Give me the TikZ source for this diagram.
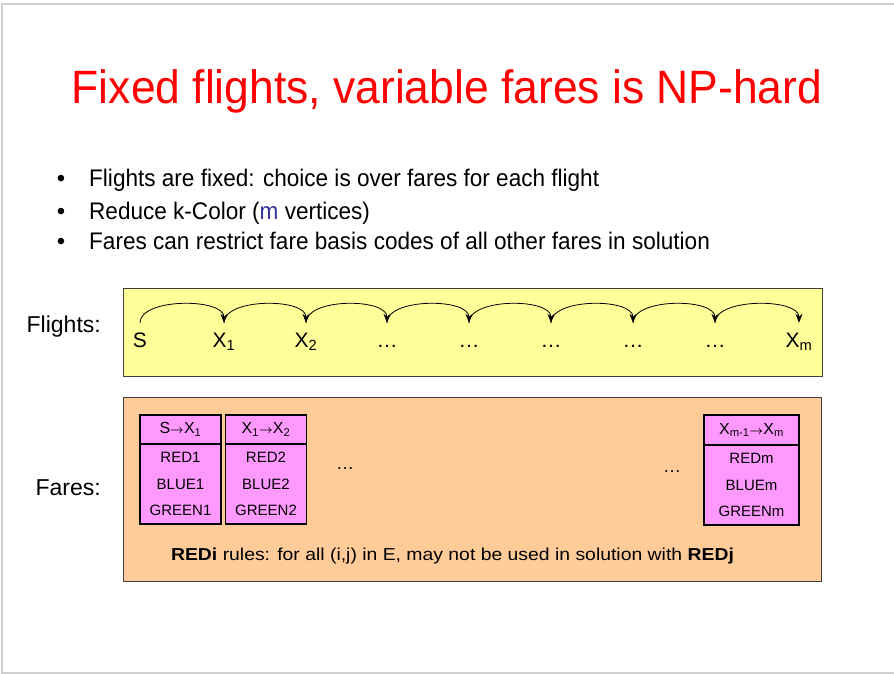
\documentclass[tikz,border=0pt]{standalone}
\usepackage{fontspec}
\setmainfont{Liberation Sans}
\usetikzlibrary{arrows.meta}
\definecolor{titlered}{RGB}{255,0,0}
\definecolor{flightbg}{RGB}{255,255,153}
\definecolor{farebg}{RGB}{255,204,153}
\definecolor{farecell}{RGB}{255,153,255}
\definecolor{mblue}{RGB}{51,51,153}
\definecolor{framegray}{RGB}{208,208,208}
\newcommand{\lowidx}[1]{\textsubscript{#1}}
\newcommand{\legto}{{\fontsize{13}{13}\selectfont\boldmath$\rightarrow$}}

\begin{document}
\begin{tikzpicture}[x=1pt, y=-1pt,
  panel/.style={draw=black!75, line width=0.8pt},
  fl/.style={anchor=base, inner sep=0pt, text height=24pt, font=\fontsize{21}{21}\selectfont},
  hop/.style={-{Stealth[length=9pt,width=7pt]}, line width=0.8pt},
  hdr/.style={draw, line width=1.5pt, fill=farecell, minimum width=81pt, minimum height=29pt, inner sep=0pt, font=\fontsize{16}{16}\selectfont},
  cell/.style={draw, line width=1.5pt, fill=farecell, minimum width=81pt, minimum height=80pt, inner sep=0pt, align=center, font=\fontsize{15}{26.5}\selectfont},
  side/.style={anchor=base east, inner sep=0pt, font=\fontsize{23}{23}\selectfont},
  bul/.style={anchor=base west, inner sep=0pt, font=\fontsize{24}{24}\selectfont}]
\useasboundingbox (0,0) rectangle (894,674);
\draw[framegray, line width=1.5pt] (900,4) -- (2,4) -- (2,673) -- (900,673);
\node[anchor=base, inner sep=0pt, text=titlered, font=\fontsize{46.8}{46.8}\selectfont] (title) at (447,103.5) {\scalebox{0.949}[1]{Fixed flights, variable fares is NP-hard}};
% bullets
\node[bul, anchor=base] (b1) at (61,186) {•};
\node[bul] (t1) at (89,186) {\scalebox{0.94}[1]{Flights are fixed: choice is over fares for each flight}};
\node[bul, anchor=base] (b2) at (61,219) {•};
\node[bul] (t2) at (89,219) {\scalebox{0.94}[1]{Reduce k-Color ({\color{mblue}m} vertices)}};
\node[bul, anchor=base] (b3) at (61,249) {•};
\node[bul] (t3) at (89,249) {\scalebox{0.94}[1]{Fares can restrict fare basis codes of all other fares in solution}};
% flights panel
\draw[panel, fill=flightbg] (123,288) rectangle (822,376);
\node[side] (flab) at (101,332) {Flights:};
\node[fl] (s) at (140,347) {S};
\node[fl] (x1) at (224,347) {X\lowidx{1}};
\node[fl] (x2) at (306,347) {X\lowidx{2}};
\node[fl] (d1) at (387,347) {…};
\node[fl] (d2) at (469,347) {…};
\node[fl] (d3) at (551,347) {…};
\node[fl] (d4) at (633,347) {…};
\node[fl] (d5) at (715,347) {…};
\node[fl] (xm) at (799,347) {X\lowidx{m}};
\foreach \a/\b in {s/x1, x1/x2, x2/d1, d1/d2, d2/d3, d3/d4, d4/d5, d5/xm}
  \draw[hop] (\a.north) .. controls +(0,-25) and +(0,-25) .. (\b.north);
% fares panel
\draw[panel, fill=farebg] (123,397) rectangle (821,581);
\node[side] (rlab) at (101,495) {Fares:};
\node[hdr] (h1) at (180.5,429.5) {S\legto X\lowidx{1}};
\node[cell] (c1) at (180.5,484) {RED1\\BLUE1\\GREEN1};
\node[hdr] (h2) at (266,429.5) {X\lowidx{1}\legto X\lowidx{2}};
\node[cell] (c2) at (266,484) {RED2\\BLUE2\\GREEN2};
\node[hdr, minimum width=95pt, minimum height=30pt] (hm) at (751.5,430) {X\lowidx{m-1}\legto X\lowidx{m}};
\node[cell, minimum width=95pt] (cm) at (751.5,485) {REDm\\BLUEm\\GREENm};
\node[anchor=base, font=\fontsize{18}{18}\selectfont] (e1) at (345,469) {…};
\node[anchor=base, font=\fontsize{18}{18}\selectfont] (e2) at (672,472) {…};
\node[anchor=base, inner sep=0pt, font=\fontsize{17.3}{17.3}\selectfont] (rule) at (452.5,560.5) {\scalebox{1.12}[1]{\textbf{REDi} rules: for all (i,j) in E, may not be used in solution with \textbf{REDj}}};
\end{tikzpicture}
\end{document}
